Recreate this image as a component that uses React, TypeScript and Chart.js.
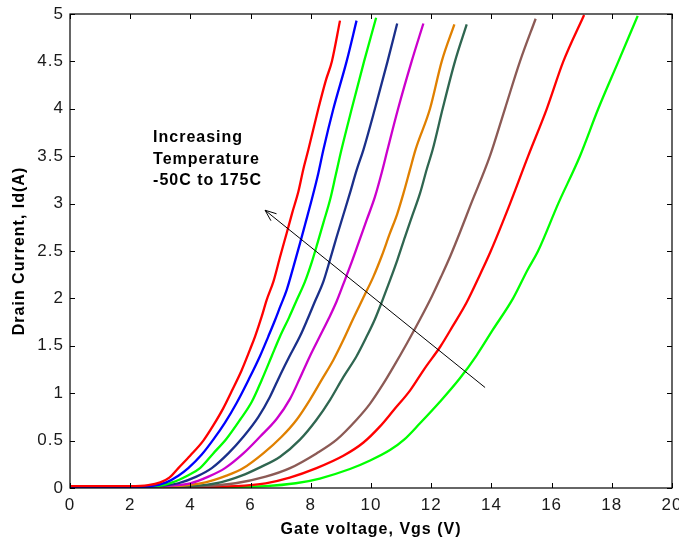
import React, { useEffect, useRef } from "react";
import { Chart, registerables } from "chart.js";

Chart.register(...registerables);

// Gate voltage (V) / drain current (A) pairs for each temperature curve (-50C ... 175C)
const c1X = [0, 1, 2, 2.6, 3.0, 3.3, 3.6, 3.99, 4.43, 4.76, 5.09, 5.37, 5.7, 5.98, 6.15, 6.37, 6.53, 6.76, 6.98, 7.2, 7.38, 7.59, 7.75, 7.92, 8.25, 8.5, 8.7, 8.97];
const c1Y = [0.02, 0.02, 0.02, 0.03, 0.06, 0.11, 0.21, 0.34, 0.5, 0.66, 0.84, 1.02, 1.24, 1.46, 1.6, 1.81, 1.98, 2.18, 2.44, 2.69, 2.9, 3.13, 3.36, 3.57, 4.0, 4.3, 4.5, 4.93];

const c2X = [0, 1, 2, 2.7, 3.2, 3.6, 3.93, 4.37, 4.76, 5.15, 5.54, 5.93, 6.31, 6.59, 6.81, 6.98, 7.2, 7.42, 7.64, 7.81, 8.03, 8.25, 8.42, 8.75, 9.19, 9.52];
const c2Y = [0.01, 0.01, 0.01, 0.02, 0.06, 0.13, 0.21, 0.35, 0.51, 0.69, 0.9, 1.14, 1.39, 1.6, 1.77, 1.91, 2.09, 2.33, 2.58, 2.78, 3.04, 3.32, 3.57, 4.0, 4.5, 4.93];

const c3X = [0, 1, 2, 2.8, 3.4, 3.9, 4.32, 4.76, 5.2, 5.65, 6.04, 6.37, 6.7, 6.98, 7.28, 7.53, 7.81, 8.03, 8.22, 8.42, 8.64, 8.82, 9.02, 9.36, 9.77, 10.17];
const c3Y = [0.02, 0.02, 0.02, 0.02, 0.06, 0.13, 0.21, 0.365, 0.52, 0.72, 0.91, 1.14, 1.39, 1.6, 1.8, 1.98, 2.18, 2.38, 2.58, 2.8, 3.04, 3.29, 3.57, 4.0, 4.5, 4.96];

const c4X = [0, 2, 3, 3.6, 4.2, 4.71, 5.26, 5.76, 6.26, 6.64, 6.98, 7.31, 7.64, 7.89, 8.14, 8.42, 8.64, 8.86, 9.08, 9.3, 9.52, 9.75, 10.13, 10.55, 10.87];
const c4Y = [0.01, 0.01, 0.02, 0.05, 0.12, 0.21, 0.365, 0.54, 0.75, 0.96, 1.19, 1.4, 1.6, 1.78, 1.97, 2.18, 2.41, 2.65, 2.88, 3.11, 3.35, 3.57, 4.0, 4.5, 4.9];

const c5X = [0, 2, 3, 4, 4.6, 5.15, 5.76, 6.31, 6.87, 7.31, 7.64, 7.97, 8.3, 8.6, 8.86, 9.08, 9.32, 9.58, 9.86, 10.13, 10.36, 10.55, 10.9, 11.35, 11.74];
const c5Y = [0.01, 0.01, 0.02, 0.05, 0.12, 0.21, 0.365, 0.54, 0.73, 0.94, 1.16, 1.39, 1.6, 1.79, 1.97, 2.15, 2.35, 2.58, 2.83, 3.07, 3.33, 3.57, 4.0, 4.5, 4.9];

const c6X = [0, 2, 3.5, 4.5, 5.2, 5.76, 6.42, 7.03, 7.53, 7.97, 8.36, 8.75, 9.08, 9.4, 9.78, 10.08, 10.36, 10.62, 10.87, 11.08, 11.28, 11.48, 11.96, 12.35, 12.77];
const c6Y = [0.0, 0.01, 0.02, 0.06, 0.13, 0.21, 0.365, 0.54, 0.72, 0.93, 1.14, 1.35, 1.56, 1.78, 2.03, 2.23, 2.45, 2.68, 2.89, 3.11, 3.34, 3.57, 4.0, 4.5, 4.89];

const c7X = [0, 2, 4, 5, 5.7, 6.26, 6.98, 7.64, 8.19, 8.64, 9.08, 9.52, 9.86, 10.13, 10.38, 10.63, 10.88, 11.13, 11.38, 11.63, 11.85, 12.05, 12.38, 12.79, 13.18];
const c7Y = [0.01, 0.01, 0.02, 0.06, 0.13, 0.21, 0.33, 0.51, 0.72, 0.93, 1.17, 1.39, 1.6, 1.78, 1.98, 2.19, 2.41, 2.65, 2.88, 3.11, 3.36, 3.57, 4.0, 4.5, 4.89];

const c8X = [0, 3, 4.5, 5.5, 6.5, 7.31, 8.19, 8.86, 9.52, 9.97, 10.41, 10.75, 11.2, 11.63, 12.02, 12.33, 12.64, 12.96, 13.29, 13.95, 14.45, 14.95, 15.47];
const c8Y = [0.0, 0.01, 0.02, 0.05, 0.12, 0.21, 0.365, 0.51, 0.72, 0.89, 1.1, 1.28, 1.53, 1.78, 2.02, 2.23, 2.45, 2.7, 2.97, 3.5, 4.0, 4.5, 4.95];

const c9X = [0, 4, 5.5, 6.5, 7.3, 8.19, 9.08, 9.75, 10.3, 10.75, 11.3, 11.78, 12.3, 12.72, 13.18, 13.62, 13.98, 14.62, 15.22, 15.84, 16.39, 17.08];
const c9Y = [0.0, 0.01, 0.02, 0.05, 0.11, 0.21, 0.34, 0.48, 0.65, 0.82, 1.03, 1.26, 1.49, 1.71, 1.96, 2.25, 2.5, 3.0, 3.5, 4.0, 4.5, 4.99];

const c10X = [0, 5, 6.5, 7.5, 8.3, 9.3, 9.97, 10.63, 11.1, 11.62, 12.29, 12.96, 13.51, 14.05, 14.72, 15.2, 15.55, 16.22, 16.94, 17.55, 18.22, 18.86];
const c10Y = [0.0, 0.01, 0.02, 0.05, 0.1, 0.2, 0.29, 0.4, 0.51, 0.68, 0.91, 1.16, 1.4, 1.67, 2.0, 2.3, 2.5, 3.0, 3.5, 4.0, 4.5, 4.98];

const curveXs = [c1X, c2X, c3X, c4X, c5X, c6X, c7X, c8X, c9X, c10X];
const curveYs = [c1Y, c2Y, c3Y, c4Y, c5Y, c6Y, c7Y, c8Y, c9Y, c10Y];
const curveColors = ["#ff0000", "#0000ff", "#00ff00", "#1a2f8a", "#cc00cc", "#e08000", "#2f6650", "#8c5a55", "#ff0000", "#00ff00"];

const xTicks = [0, 2, 4, 6, 8, 10, 12, 14, 16, 18, 20];
const yTicks = [0, 0.5, 1, 1.5, 2, 2.5, 3, 3.5, 4, 4.5, 5];

const xTitle = "Gate voltage, Vgs (V)";
const yTitle = "Drain Current, Id(A)";
const noteLines = ["Increasing", "Temperature", "-50C to 175C"];
const notePos = [2.76, 3.78];
const arrowFrom = [13.79, 1.06];
const arrowTo = [6.48, 2.93];

const FONT = '"Liberation Sans", Arial, Helvetica, sans-serif';

const framePlugin = {
  id: "frame",
  beforeDraw(chart: any) {
    const ctx = chart.ctx;
    ctx.letterSpacing = "1px";
    ctx.fillStyle = "#fff";
    ctx.fillRect(0, 0, chart.width, chart.height);
  },
  afterDraw(chart: any) {
    const ctx = chart.ctx;
    const { left, right, top, bottom } = chart.chartArea;
    const xs = chart.scales.x;
    const ys = chart.scales.y;
    ctx.save();
    ctx.strokeStyle = "#000";
    ctx.lineWidth = 1.2;
    ctx.strokeRect(left, top, right - left, bottom - top);
    ctx.lineWidth = 1;
    const tl = 5;
    ctx.beginPath();
    xTicks.forEach((v) => {
      const px = Math.round(xs.getPixelForValue(v)) + 0.5;
      ctx.moveTo(px, bottom);
      ctx.lineTo(px, bottom - tl);
      ctx.moveTo(px, top);
      ctx.lineTo(px, top + tl);
    });
    yTicks.forEach((v) => {
      const py = Math.round(ys.getPixelForValue(v)) + 0.5;
      ctx.moveTo(left, py);
      ctx.lineTo(left + tl, py);
      ctx.moveTo(right, py);
      ctx.lineTo(right - tl, py);
    });
    ctx.stroke();

    // arrow
    const x0 = xs.getPixelForValue(arrowFrom[0]);
    const y0 = ys.getPixelForValue(arrowFrom[1]);
    const x1 = xs.getPixelForValue(arrowTo[0]);
    const y1 = ys.getPixelForValue(arrowTo[1]);
    ctx.beginPath();
    ctx.moveTo(x0, y0);
    ctx.lineTo(x1, y1);
    ctx.stroke();
    const ang = Math.atan2(y1 - y0, x1 - x0);
    const ah = 12;
    const aw = 0.38;
    ctx.beginPath();
    ctx.moveTo(x1, y1);
    ctx.lineTo(x1 - ah * Math.cos(ang - aw), y1 - ah * Math.sin(ang - aw));
    ctx.moveTo(x1, y1);
    ctx.lineTo(x1 - ah * Math.cos(ang + aw), y1 - ah * Math.sin(ang + aw));
    ctx.stroke();

    // annotation text
    ctx.fillStyle = "#000";
    ctx.font = `bold 16px ${FONT}`;
    ctx.textAlign = "left";
    ctx.textBaseline = "top";
    const tx = xs.getPixelForValue(notePos[0]);
    const ty = ys.getPixelForValue(notePos[1]);
    noteLines.forEach((s, i) => ctx.fillText(s, tx, ty + i * 21.5));
    ctx.restore();
    ctx.letterSpacing = "0px";
  },
};

export default function App() {
  const ref = useRef<HTMLCanvasElement | null>(null);
  useEffect(() => {
    document.body.style.margin = "0";
    const datasets = curveXs.map((xsArr, i) => ({
      data: xsArr.map((xv, j) => ({ x: xv, y: curveYs[i][j] })),
      borderColor: curveColors[i],
      backgroundColor: curveColors[i],
      borderWidth: 2.3,
      pointRadius: 0,
      showLine: true,
      fill: false,
      cubicInterpolationMode: "monotone" as const,
    }));
    const chart = new Chart(ref.current as HTMLCanvasElement, {
      type: "scatter",
      data: { datasets },
      plugins: [framePlugin],
      options: {
        animation: false,
        responsive: false,
        maintainAspectRatio: false,
        layout: { padding: { left: 0, top: 14, right: 7, bottom: 0 } },
        plugins: { legend: { display: false }, tooltip: { enabled: false } },
        scales: {
          x: {
            type: "linear",
            min: 0,
            max: 20,
            afterBuildTicks: (s: any) => {
              s.ticks = xTicks.map((v) => ({ value: v }));
            },
            afterFit: (s: any) => {
              s.height = 51;
              s.paddingLeft = 0;
              s.paddingRight = 0;
            },
            grid: { display: false, drawTicks: false },
            border: { display: false },
            ticks: {
              padding: 7,
              color: "#1a1a1a",
              font: { family: FONT, size: 17 },
              maxRotation: 0,
              autoSkip: false,
              callback: (v: any) => String(v),
            },
            title: { display: true, text: xTitle, color: "#000", font: { family: FONT, size: 16, weight: "bold" }, padding: { top: 0, bottom: 0 } },
          },
          y: {
            type: "linear",
            min: 0,
            max: 5,
            afterBuildTicks: (s: any) => {
              s.ticks = yTicks.map((v) => ({ value: v }));
            },
            afterFit: (s: any) => {
              s.width = 70;
              s.paddingTop = 0;
              s.paddingBottom = 0;
            },
            grid: { display: false, drawTicks: false },
            border: { display: false },
            ticks: {
              padding: 6,
              color: "#1a1a1a",
              font: { family: FONT, size: 17 },
              autoSkip: false,
              callback: (v: any) => String(v),
            },
            title: { display: true, text: yTitle, color: "#000", font: { family: FONT, size: 16, weight: "bold" }, padding: { top: 10, bottom: 0 } },
          },
        },
      },
    });
    return () => chart.destroy();
  }, []);
  return (
    <div style={{ position: "fixed", left: 0, top: 0, width: 679, height: 539 }}>
      <canvas ref={ref} width={679} height={539} style={{ width: 679, height: 539 }} />
    </div>
  );
}
